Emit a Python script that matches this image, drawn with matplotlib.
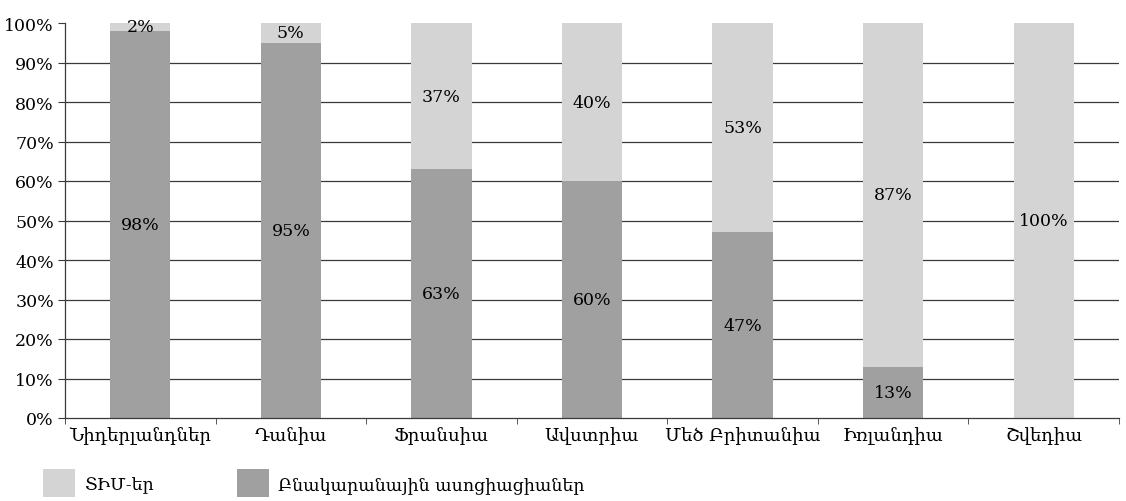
import matplotlib
matplotlib.use("Agg")
import matplotlib.pyplot as plt
from matplotlib.patches import Patch
import numpy as np

plt.rcParams['font.family'] = ['DejaVu Serif']

countries = ["Նիդերլանդներ", "Դանիա", "Ֆրանսիա", "Ավստրիա",
             "Մեծ Բրիտանիա", "Իռլանդիա", "Շվեդիա"]
housing_assoc = [98, 95, 63, 60, 47, 13, 0]
lmo = [2, 5, 37, 40, 53, 87, 100]
series_names = ["ՏԻՄ-եր", "Բնակարանային ասոցիացիաներ"]
yticks = list(range(0, 101, 10))

light = "#d4d4d4"
dark = "#a0a0a0"

W, H = 1126, 502
fig = plt.figure(figsize=(W / 100, H / 100), dpi=100)
ax = fig.add_axes([65 / W, 83 / H, 1054 / W, 395 / H])

x = np.arange(len(countries))
bw = 0.40
ax.bar(x, housing_assoc, bw, color=dark, zorder=2)
ax.bar(x, lmo, bw, bottom=housing_assoc, color=light, zorder=2)

fs = 12.5
for xi, a, b in zip(x, housing_assoc, lmo):
    if a > 0:
        ax.text(xi, a / 2, f"{a}%", ha="center", va="center", fontsize=fs, zorder=3)
    if b > 0:
        ax.text(xi, a + b / 2, f"{b}%", ha="center", va="center", fontsize=fs, zorder=3)

ax.set_xlim(-0.5, len(countries) - 0.5)
ax.set_ylim(0, 100)
for g in yticks[1:-1]:
    ax.axhline(g, color="#3a3a3a", lw=0.9, zorder=1)

ax.set_yticks(yticks)
ax.set_yticklabels([f"{t}%" for t in yticks], fontsize=fs)
ax.set_xticks(x)
ax.set_xticklabels(countries, fontsize=fs + 0.5)
ax.tick_params(axis="x", length=0, pad=6)
ax.set_xticks(np.arange(len(countries) + 1) - 0.5, minor=True)
ax.tick_params(axis="x", which="minor", length=4, color="#3a3a3a")
ax.tick_params(axis="y", length=5, color="#3a3a3a", pad=3)

for s in ["top", "right"]:
    ax.spines[s].set_visible(False)
for s in ["left", "bottom"]:
    ax.spines[s].set_color("#3a3a3a")
    ax.spines[s].set_linewidth(0.9)

handles = [Patch(facecolor=light), Patch(facecolor=dark)]
fig.legend(handles, series_names, loc="lower left",
           bbox_to_anchor=(27 / W, -12 / H), ncol=2, frameon=False,
           fontsize=fs, handlelength=1.84, handleheight=2.1,
           handletextpad=0.52, columnspacing=4.8)

fig.savefig("out.png", dpi=100)
